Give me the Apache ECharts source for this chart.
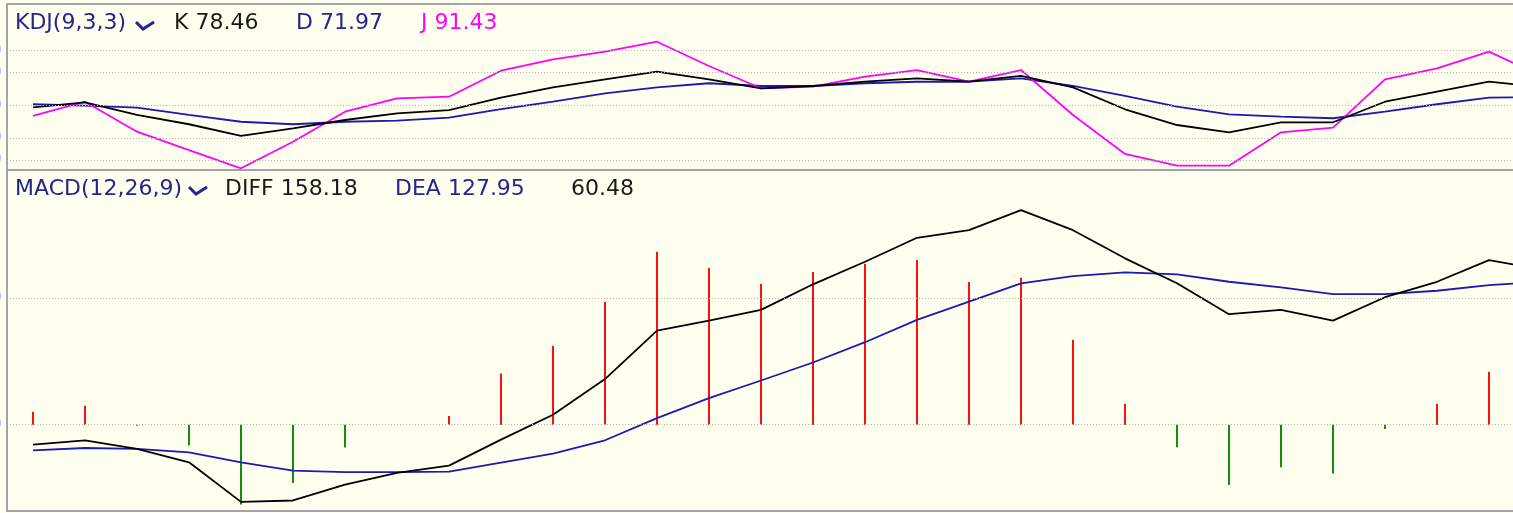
<!DOCTYPE html>
<html>
<head>
<meta charset="utf-8">
<script src="https://cdn.jsdelivr.net/npm/echarts@6/dist/echarts.min.js"></script>
<style>
    html, body { margin: 0; padding: 0; background: #fffff0; }
    #chart { width: 1513px; height: 513px; }
</style>
</head>
<body>
<div id="chart"></div>
<script>
// bars (one per day), last one sits just past the right edge
var days = ['1', '2', '3', '4', '5', '6', '7', '8', '9', '10',
    '11', '12', '13', '14', '15', '16', '17', '18', '19', '20',
    '21', '22', '23', '24', '25', '26', '27', '28', '29', '30'];

var kVals = [48.2, 52.8, 41.2, 32.7, 22, 29, 36.6, 42.7, 45.7, 57,
    66.5, 73.8, 80.8, 73.8, 65.6, 67.7, 71.6, 74.7, 71.6, 76.9,
    66.5, 46.4, 32, 25.3, 34.5, 34.5, 53.3, 62.5, 71.6, 67];
var dVals = [51, 49.7, 47.9, 41.2, 35, 32.7, 35, 36, 38.7, 46.5,
    53.3, 61, 66.5, 70.2, 67.7, 67.7, 70.2, 71.6, 71.6, 74.7,
    67.7, 58.6, 48.8, 41.8, 39.6, 38.2, 44.2, 51, 57, 57.5];
var jVals = [40.3, 53.3, 25.9, 9.1, -7.6, 16.7, 44.2, 56.4, 57.9, 81.7,
    92.1, 99.1, 108.2, 86, 65.6, 67.1, 76.2, 82.3, 71.6, 82.3,
    41.2, 5.5, -5.2, -5.2, 25.3, 29.6, 73.8, 83.9, 99.1, 77];

var diffVals = [-15.7, -12.3, -19, -29.7, -60.9, -59.8, -47.2, -38, -32.3, -11.8,
    7.9, 36, 74.3, 82.1, 90.6, 110.8, 128.6, 147.5, 153.5, 169.3,
    153.5, 131.3, 111.6, 87.2, 90.6, 82.1, 100.6, 112.8, 129.9, 122.6];
var deaVals = [-20.2, -18.4, -19.1, -21.8, -29.7, -36.2, -37.5, -37.5, -37, -30,
    -22.8, -12.3, 5.2, 21, 34.9, 49.1, 65.1, 82.7, 97.1, 111.6,
    117.3, 120.2, 118.6, 112.8, 108.4, 103.1, 103.1, 105.7, 110.2, 112.5];
var macdVals = [10.2, 15, -0.8, -16.5, -63, -46, -18, 0, 6.8, 40.5,
    62.4, 97, 136.4, 123.6, 111, 120.6, 127, 130, 112.6, 116,
    67, 16.5, -17.8, -47.5, -33.5, -38.6, -3.4, 16.5, 41.8, 20];

// dotted reference levels
var kdjLevels = [0, 20, 50, 80, 100];
var macdLevels = [0, 100];

// header texts
var kdjHead = ['KDJ(9,3,3)', 'K 78.46', 'D 71.97', 'J 91.43'];
var macdHead = ['MACD(12,26,9)', 'DIFF 158.18', 'DEA 127.95', '60.48'];

var NAVY = '#25258f';
var BLUE = '#1a1ab4';
var FONT = '22px "DejaVu Sans"';

function levelLine(levels) {
    return {
        silent: true,
        symbol: ['none', 'none'],
        animation: false,
        lineStyle: { color: '#b4b4b4', type: [1, 2], width: 1 },
        label: {
            show: true, position: 'start', distance: 5,
            color: '#6f9fd6', fontSize: 20, formatter: '{c}'
        },
        data: levels.map(function (v) { return { yAxis: v }; })
    };
}

function headText(x, y, txt, color) {
    return {
        type: 'text', x: x, y: y, silent: true,
        style: { text: txt, fill: color, font: FONT, verticalAlign: 'middle' }
    };
}

function chevron(pts) {
    return {
        type: 'polyline', silent: true,
        shape: { points: pts },
        style: { stroke: NAVY, lineWidth: 3, fill: null }
    };
}

var myChart = echarts.init(document.getElementById('chart'));
var option = {
    backgroundColor: '#fffff0',
    animation: false,
    textStyle: { fontFamily: 'DejaVu Sans' },
    grid: [
        { left: 7, top: 4, width: 1560, height: 166, outerBoundsMode: 'none',
          show: true, borderColor: '#a4a4a4', borderWidth: 2 },
        { left: 7, top: 170, width: 1560, height: 341, outerBoundsMode: 'none',
          show: true, borderColor: '#a4a4a4', borderWidth: 2 }
    ],
    xAxis: [
        { type: 'category', gridIndex: 0, data: days, boundaryGap: true, show: false },
        { type: 'category', gridIndex: 1, data: days, boundaryGap: true, show: false }
    ],
    yAxis: [
        { type: 'value', gridIndex: 0, min: -9.15, max: 142.7, show: false },
        { type: 'value', gridIndex: 1, min: -68.1, max: 201, show: false }
    ],
    series: [
        {
            name: 'D', type: 'line', xAxisIndex: 0, yAxisIndex: 0, data: dVals,
            symbol: 'none', lineStyle: { color: BLUE, width: 1.8 },
            markLine: levelLine(kdjLevels)
        },
        {
            name: 'J', type: 'line', xAxisIndex: 0, yAxisIndex: 0, data: jVals,
            symbol: 'none', lineStyle: { color: '#ff00ff', width: 1.8 }
        },
        {
            name: 'K', type: 'line', xAxisIndex: 0, yAxisIndex: 0, data: kVals,
            symbol: 'none', lineStyle: { color: '#000000', width: 1.8 }
        },
        {
            name: 'MACD', type: 'bar', xAxisIndex: 1, yAxisIndex: 1, data: macdVals,
            barWidth: 2,
            itemStyle: {
                color: function (p) { return p.value >= 0 ? '#ff1010' : '#158a15'; }
            },
            markLine: levelLine(macdLevels)
        },
        {
            name: 'DEA', type: 'line', xAxisIndex: 1, yAxisIndex: 1, data: deaVals,
            symbol: 'none', lineStyle: { color: BLUE, width: 1.8 }
        },
        {
            name: 'DIFF', type: 'line', xAxisIndex: 1, yAxisIndex: 1, data: diffVals,
            symbol: 'none', lineStyle: { color: '#000000', width: 1.8 }
        }
    ],
    graphic: [
        headText(15, 23, kdjHead[0], NAVY),
        chevron([[136, 22], [143, 29], [154, 22]]),
        headText(174, 23, kdjHead[1], '#1a1a1a'),
        headText(296, 23, kdjHead[2], NAVY),
        headText(421, 23, kdjHead[3], '#ff00ff'),
        headText(15, 189, macdHead[0], NAVY),
        chevron([[189, 187], [196, 194], [207, 187]]),
        headText(225, 189, macdHead[1], '#1a1a1a'),
        headText(395, 189, macdHead[2], NAVY),
        headText(571, 189, macdHead[3], '#1a1a1a')
    ]
};
myChart.setOption(option);
</script>
</body>
</html>
